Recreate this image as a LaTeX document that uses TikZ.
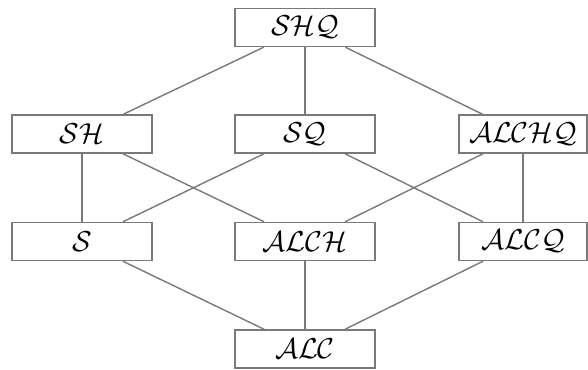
\documentclass[tikz,border=0pt]{standalone}
\begin{document}
\begin{tikzpicture}[x=0.5pt,y=-0.5pt,
  dlbox/.style={draw=gray!95!black, line width=0.75pt, rectangle, inner sep=0pt,
    minimum width=70pt, minimum height=19pt, font=\Large, fill=white},
  dlboxr/.style={dlbox, minimum width=64pt},
  link/.style={draw=gray!95!black, line width=0.7pt}]
\useasboundingbox (0,0) rectangle (588,369);
\node[dlbox]  (shq)   at (305,27.5) {$\mathcal{SHQ}$};
\node[dlbox]  (sh)    at (82,134)   {$\mathcal{SH}$};
\node[dlbox]  (sq)    at (305,134)  {$\mathcal{SQ}$};
\node[dlboxr] (alchq) at (523,134)  {$\mathcal{ALCHQ}$};
\node[dlbox]  (s)     at (82,241.5) {$\mathcal{S}$};
\node[dlbox]  (alch)  at (305,241.5){$\mathcal{ALCH}$};
\node[dlboxr] (alcq)  at (523,241.5){$\mathcal{ALCQ}$};
\node[dlbox]  (alc)   at (305,349)  {$\mathcal{ALC}$};
\draw[link] (shq) -- (sh);
\draw[link] (shq) -- (sq);
\draw[link] (shq) -- (alchq);
\draw[link] (sh) -- (s);
\draw[link] (sh) -- (alch);
\draw[link] (sq) -- (s);
\draw[link] (sq) -- (alcq);
\draw[link] (alchq) -- (alch);
\draw[link] (alchq) -- (alcq);
\draw[link] (s) -- (alc);
\draw[link] (alch) -- (alc);
\draw[link] (alcq) -- (alc);
\end{tikzpicture}
\end{document}
